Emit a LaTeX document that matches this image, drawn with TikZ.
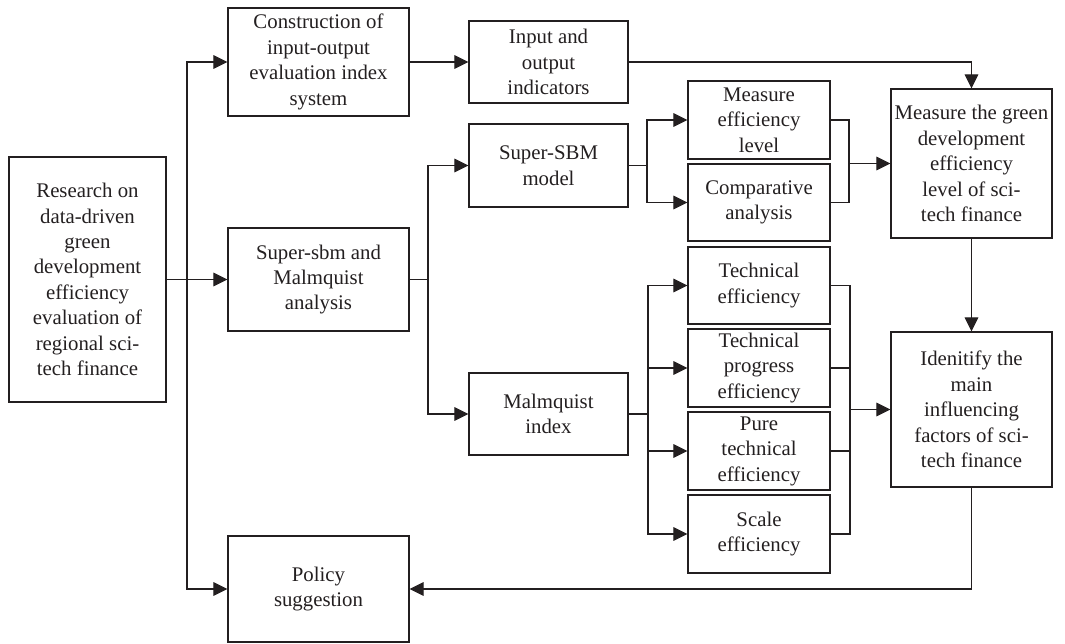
\documentclass[tikz,border=0pt]{standalone}
\usepackage{fontspec}
\setmainfont{Liberation Serif}
\usetikzlibrary{arrows.meta}
\definecolor{r35g31b32}{rgb}{0.137255,0.121569,0.125490}
\tikzset{
  block/.style={draw=r35g31b32, line width=0.030cm, inner sep=0pt, align=center,
    text=r35g31b32, font=\fontsize{14.8}{18.1}\selectfont},
  link/.style={draw=r35g31b32, line width=0.028cm,
    -{Triangle[length=0.350000cm,width=0.340000cm]}},
  joint/.style={draw=r35g31b32, line width=0.028cm}
}
\begin{document}
\begin{tikzpicture}
\useasboundingbox (0.000000,0.000000) rectangle (26.625000,16.075000);
{\fontsize{14.8}{18.1}\selectfont

% Drawing left column
\node [block, minimum width=3.925000cm, minimum height=6.125000cm] (research) at (2.187500,9.087500) {Research on\\data-driven\\green\\development\\efficiency\\evaluation of\\regional sci-\\tech finance};%

% Drawing second column
\node [block, minimum width=4.525000cm, minimum height=2.700000cm] (construct) at (7.962500,14.525000) {Construction of\\input-output\\evaluation index\\system};%
\node [block, minimum width=4.525000cm, minimum height=2.575000cm] (superanalysis) at (7.962500,9.087500) {Super-sbm and\\Malmquist\\analysis};%
\node [block, minimum width=4.525000cm, minimum height=2.650000cm] (policy) at (7.962500,1.350000) {Policy\\suggestion};%

% Drawing third column
\node [block, minimum width=3.975000cm, minimum height=2.050000cm] (indicators) at (13.712500,14.525000) {Input and\\output\\indicators};%
\node [block, minimum width=3.975000cm, minimum height=2.075000cm] (sbm) at (13.712500,11.937500) {Super-SBM\\model};%
\node [block, minimum width=3.975000cm, minimum height=2.050000cm] (malmquist) at (13.712500,5.725000) {Malmquist\\index};%

% Drawing fourth column
\node [block, minimum width=3.550000cm, minimum height=1.950000cm] (effmeasure) at (18.975000,13.075000) {Measure\\efficiency\\level};%
\node [block, minimum width=3.550000cm, minimum height=1.925000cm] (comparison) at (18.975000,11.012500) {Comparative\\analysis};%
\node [block, minimum width=3.550000cm, minimum height=1.925000cm] (techeff) at (18.975000,8.937500) {Technical\\efficiency};%
\node [block, minimum width=3.550000cm, minimum height=1.950000cm] (techprogress) at (18.975000,6.875000) {Technical\\progress\\efficiency};%
\node [block, minimum width=3.550000cm, minimum height=1.950000cm] (puretech) at (18.975000,4.800000) {Pure\\technical\\efficiency};%
\node [block, minimum width=3.550000cm, minimum height=1.950000cm] (scaleeff) at (18.975000,2.725000) {Scale\\efficiency};%

% Drawing right column
\node [block, minimum width=4.025000cm, minimum height=3.725000cm] (greenlevel) at (24.287500,11.987500) {Measure the green\\development\\efficiency\\level of sci-\\tech finance};%
\node [block, minimum width=4.025000cm, minimum height=3.875000cm] (factors) at (24.287500,5.837500) {Idenitify the\\main\\influencing\\factors of sci-\\tech finance};%

% Drawing junctions
\coordinate (jtrunk) at (4.675000,9.087500);%
\coordinate (jsplit) at (10.700000,9.087500);%
\coordinate (jsbm) at (16.175000,11.937500);%
\coordinate (jmeasure) at (21.225000,11.987500);%
\coordinate (jmalm) at (16.200000,5.725000);%
\coordinate (jfactors) at (21.250000,5.837500);%

% Drawing connectors
\draw [link] (research.east) -- (superanalysis.west);%
\draw [link] (jtrunk) |- (construct.west);%
\draw [link] (jtrunk) |- (policy.west);%
\draw [link] (construct.east) -- (indicators.west);%
\draw [link] (indicators.east) -| (greenlevel.north);%
\draw [joint] (superanalysis.east) -- (jsplit);%
\draw [link] (jsplit) |- (sbm.west);%
\draw [link] (jsplit) |- (malmquist.west);%
\draw [joint] (sbm.east) -- (jsbm);%
\draw [link] (jsbm) |- (effmeasure.west);%
\draw [link] (jsbm) |- (comparison.west);%
\draw [joint] (effmeasure.east) -| (jmeasure) |- (comparison.east);%
\draw [link] (jmeasure) -- (greenlevel.west);%
\draw [joint] (malmquist.east) -- (jmalm);%
\draw [link] (jmalm) |- (techeff.west);%
\draw [link] (jmalm) |- (techprogress.west);%
\draw [link] (jmalm) |- (puretech.west);%
\draw [link] (jmalm) |- (scaleeff.west);%
\draw [joint] (techeff.east) -| (jfactors) |- (scaleeff.east);%
\draw [joint] (techprogress.east) -| (jfactors);%
\draw [joint] (puretech.east) -| (jfactors);%
\draw [link] (jfactors) -- (factors.west);%
\draw [link] (greenlevel.south) -- (factors.north);%
\draw [link] (factors.south) |- (policy.east);%
}
\end{tikzpicture}
\end{document}
